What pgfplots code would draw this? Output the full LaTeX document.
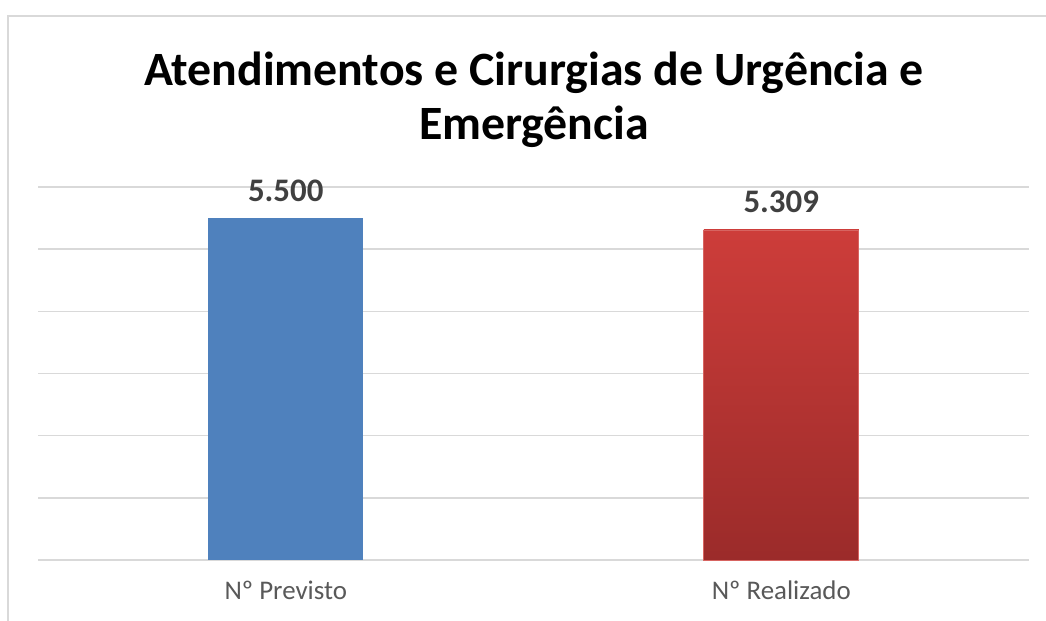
\documentclass[border=0pt]{standalone}
\usepackage{pgfplots}
\pgfplotsset{compat=1.18}
\usepackage{fontspec}
\setmainfont{Carlito}
\definecolor{gridc}{HTML}{D9D9D9}
\definecolor{barblue}{HTML}{4F81BD}
\definecolor{redtop}{HTML}{CD3D3A}
\definecolor{redbot}{HTML}{9B2B2A}
\definecolor{lblc}{HTML}{404040}
\definecolor{tickc}{HTML}{595959}
\begin{document}
\begin{tikzpicture}[x=1bp,y=1bp]
\useasboundingbox (0,0) rectangle (1046,621);
\fill[white] (0,0) rectangle (1046,621);
\draw[gridc, line width=2bp] (8,-2) -- (8,605) -- (1050,605);
\node[font=\fontsize{48}{56}\selectfont\bfseries, anchor=base] at (534,535) {Atendimentos e Cirurgias de Urgência e};
\node[font=\fontsize{48}{56}\selectfont\bfseries, anchor=base] at (534,481) {Emergência};
\begin{axis}[
  at={(38bp,61bp)}, anchor=south west,
  scale only axis, width=991bp, height=373bp,
  xmin=-0.5, xmax=1.5, ymin=0, ymax=6000,
  ytick={0,1000,...,6000}, yticklabels={},
  xtick={0,1}, xticklabels={Nº Previsto, Nº Realizado},
  major tick length=0pt,
  axis line style={draw=none},
  ymajorgrids, grid style={gridc, line width=1.6bp},
  xticklabel style={font=\fontsize{27}{31}\selectfont, text=tickc, anchor=base, yshift=-40bp},
  ybar, bar width=155bp,
  nodes near coords,
  point meta=explicit symbolic,
  every node near coord/.append style={font=\fontsize{33}{37}\selectfont\bfseries, text=lblc, anchor=base, yshift=17bp},
  clip=false,
]
\addplot[draw=none, fill=barblue, bar shift=0pt] coordinates {(0,5500) [5.500]};
\addplot[draw=redtop!80!white, line width=0.8bp, shading=axis, top color=redtop, bottom color=redbot, bar shift=0pt] coordinates {(1,5309) [5.309]};
\end{axis}
\end{tikzpicture}
\end{document}
